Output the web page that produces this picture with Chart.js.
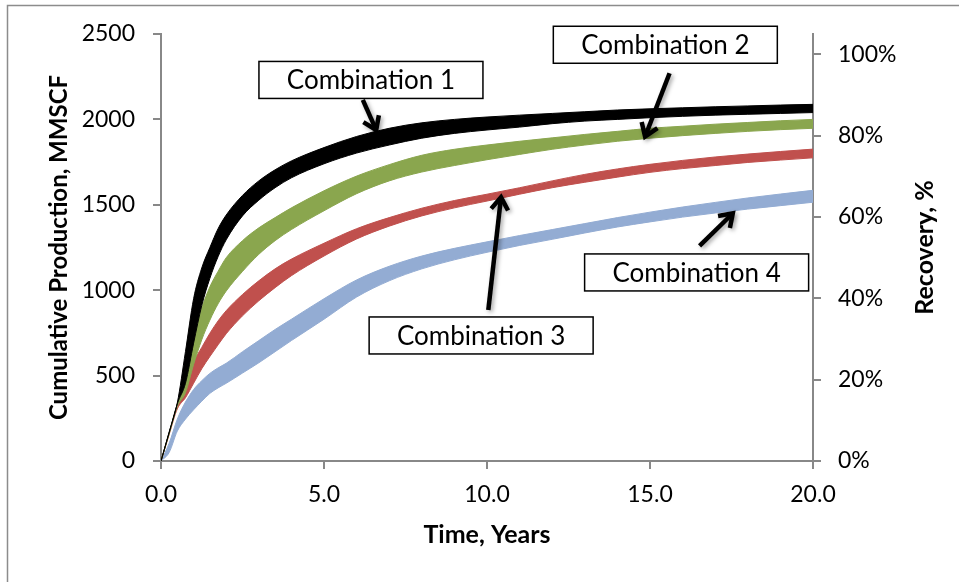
<!DOCTYPE html>
<html>
<head>
<meta charset="utf-8">
<script src="https://cdn.jsdelivr.net/npm/chart.js@4.4.1/dist/chart.umd.min.js"></script>
<style>
  html, body { margin: 0; padding: 0; background: #ffffff; }
  #wrap { width: 959px; height: 582px; }
</style>
</head>
<body>
<div id="wrap"><canvas id="chart" width="959" height="582"></canvas></div>
<script>
// Time axis (years)
const years = [0, 0.25, 0.5, 0.75, 1.0, 1.25, 1.5, 1.75, 2.0, 2.5, 3.0, 3.5, 4.0, 5.0, 6.0, 7.0, 8.0, 9.0, 10.0, 11.0, 12.0, 13.0, 14.0, 15.0, 16.0, 17.0, 18.0, 19.0, 20.0];

// Cumulative production, MMSCF: upper and lower bounds of each combination
const combo1Upper = [0, 170, 340, 640, 950, 1130, 1250, 1360, 1440, 1555, 1640, 1705, 1757, 1835, 1900, 1948, 1980, 2000, 2014, 2025, 2035, 2045, 2055, 2062, 2068, 2074, 2079, 2084, 2088];
const combo1Lower = [0, 165, 335, 455, 690, 910, 1070, 1196, 1295, 1435, 1527, 1600, 1658, 1740, 1803, 1850, 1890, 1918, 1938, 1955, 1975, 1990, 2000, 2010, 2018, 2025, 2030, 2035, 2040];
const combo2Upper = [0, 165, 330, 500, 725, 895, 1020, 1110, 1190, 1290, 1365, 1425, 1482, 1582, 1668, 1735, 1790, 1825, 1850, 1872, 1892, 1912, 1930, 1948, 1960, 1972, 1982, 1992, 2000];
const combo2Lower = [0, 160, 320, 400, 565, 710, 825, 920, 995, 1110, 1210, 1290, 1355, 1465, 1565, 1640, 1692, 1730, 1764, 1795, 1825, 1850, 1872, 1890, 1905, 1918, 1930, 1940, 1948];
const combo3Upper = [0, 160, 330, 455, 580, 665, 748, 820, 880, 975, 1055, 1125, 1182, 1275, 1360, 1425, 1480, 1525, 1562, 1600, 1640, 1678, 1710, 1737, 1760, 1780, 1797, 1812, 1826];
const combo3Lower = [0, 155, 305, 370, 455, 540, 612, 680, 745, 850, 938, 1015, 1085, 1200, 1300, 1375, 1435, 1482, 1522, 1562, 1600, 1632, 1662, 1690, 1712, 1730, 1748, 1762, 1775];
const combo4Upper = [0, 104, 245, 345, 418, 470, 513, 545, 572, 640, 705, 770, 830, 950, 1060, 1140, 1200, 1245, 1283, 1320, 1355, 1390, 1425, 1457, 1487, 1514, 1540, 1563, 1585];
const combo4Lower = [0, 50, 175, 245, 300, 350, 396, 428, 455, 515, 575, 640, 705, 830, 960, 1055, 1125, 1178, 1222, 1262, 1298, 1335, 1370, 1400, 1428, 1452, 1475, 1495, 1515];

const seriesNames = ['Combination 1', 'Combination 2', 'Combination 3', 'Combination 4'];
const seriesColors = ['#000000', '#8AA64E', '#C0504D', '#93ACD3'];

// Axis ticks
const productionTicks = [0, 500, 1000, 1500, 2000, 2500];
const recoveryTicks = [0, 20, 40, 60, 80, 100];
const recoveryMax = 105;   // OGIP ~ 2380 MMSCF
const timeTicks = [0, 5, 10, 15, 20];

const bands = [
  [combo1Upper, combo1Lower],
  [combo2Upper, combo2Lower],
  [combo3Upper, combo3Lower],
  [combo4Upper, combo4Lower]
];

const toPoints = arr => arr.map((v, i) => ({ x: years[i], y: v }));

const datasets = [];
bands.forEach(([up, lo], k) => {
  const c = seriesColors[k];
  datasets.push({
    label: seriesNames[k] + ' (high)', data: toPoints(up), yAxisID: 'y',
    borderColor: c, backgroundColor: c, borderWidth: 1, pointRadius: 0,
    cubicInterpolationMode: 'monotone', fill: '+1'
  });
  datasets.push({
    label: seriesNames[k] + ' (low)', data: toPoints(lo), yAxisID: 'y',
    borderColor: c, backgroundColor: c, borderWidth: 1, pointRadius: 0,
    cubicInterpolationMode: 'monotone', fill: false
  });
});

// Call-out boxes with arrows, placed in data units
const callouts = [
  { text: seriesNames[0], cx: 6.44, cy: 2231, from: [6.19, 2114], to: [6.60, 1938] },
  { text: seriesNames[1], cx: 15.47, cy: 2437, from: [15.60, 2270], to: [14.85, 1899] },
  { text: seriesNames[2], cx: 9.82, cy: 735, from: [10.04, 884], to: [10.43, 1544] },
  { text: seriesNames[3], cx: 16.43, cy: 1104, from: [16.52, 1259], to: [17.54, 1450] }
];

const FONT = 'Lato, "Open Sans", sans-serif';
const AXIS_GREY = '#888888';

const framePlugin = {
  id: 'frame',
  beforeDraw(chart) {
    const ctx = chart.ctx;
    ctx.save();
    ctx.fillStyle = '#ffffff';
    ctx.fillRect(0, 0, chart.width, chart.height);
    ctx.strokeStyle = '#8c8c8c';
    ctx.lineWidth = 1.5;
    ctx.strokeRect(7.5, 5.5, chart.width + 20, chart.height + 20);
    ctx.restore();
  }
};

const calloutPlugin = {
  id: 'callouts',
  afterDatasetsDraw(chart) {
    const ctx = chart.ctx;
    const xs = chart.scales.x, ys = chart.scales.y;
    ctx.save();
    callouts.forEach(c => {
      // arrow
      const x0 = xs.getPixelForValue(c.from[0]), y0 = ys.getPixelForValue(c.from[1]);
      const x1 = xs.getPixelForValue(c.to[0]), y1 = ys.getPixelForValue(c.to[1]);
      const ang = Math.atan2(y1 - y0, x1 - x0);
      const head = 15, spread = 0.6;
      ctx.save();
      ctx.shadowColor = 'rgba(0,0,0,0.35)';
      ctx.shadowBlur = 4;
      ctx.shadowOffsetX = 2;
      ctx.shadowOffsetY = 2;
      ctx.strokeStyle = '#000';
      ctx.lineWidth = 4.5;
      ctx.lineCap = 'butt';
      ctx.lineJoin = 'miter';
      ctx.beginPath();
      ctx.moveTo(x0, y0);
      ctx.lineTo(x1 - Math.cos(ang) * 2, y1 - Math.sin(ang) * 2);
      ctx.stroke();
      ctx.beginPath();
      ctx.moveTo(x1 - head * Math.cos(ang - spread), y1 - head * Math.sin(ang - spread));
      ctx.lineTo(x1, y1);
      ctx.lineTo(x1 - head * Math.cos(ang + spread), y1 - head * Math.sin(ang + spread));
      ctx.stroke();
      ctx.restore();

      // box
      const bx = xs.getPixelForValue(c.cx), by = ys.getPixelForValue(c.cy);
      const w = 224, h = 37;
      ctx.fillStyle = '#ffffff';
      ctx.fillRect(bx - w / 2, by - h / 2, w, h);
      ctx.strokeStyle = '#000';
      ctx.lineWidth = 1.5;
      ctx.strokeRect(bx - w / 2, by - h / 2, w, h);
      ctx.fillStyle = '#000';
      ctx.font = '26px ' + FONT;
      ctx.textAlign = 'center';
      ctx.textBaseline = 'middle';
      ctx.fillText(c.text, bx, by + 1);
    });
    ctx.restore();
  }
};

// Secondary axis title, reading bottom to top
const recoveryTitlePlugin = {
  id: 'recoveryTitle',
  afterDraw(chart) {
    const ctx = chart.ctx;
    const a = chart.chartArea;
    ctx.save();
    ctx.translate(925, (a.top + a.bottom) / 2);
    ctx.rotate(-Math.PI / 2);
    ctx.fillStyle = '#000';
    ctx.font = 'bold 25px ' + FONT;
    ctx.textAlign = 'center';
    ctx.textBaseline = 'middle';
    ctx.fillText('Recovery, %', 0, 0);
    ctx.restore();
  }
};

const axisGrid = { display: true, drawOnChartArea: false, drawTicks: true, tickLength: 8, color: AXIS_GREY, lineWidth: 2 };
const axisBorder = { display: true, color: AXIS_GREY, width: 2 };

new Chart(document.getElementById('chart'), {
  type: 'line',
  data: { datasets },
  options: {
    responsive: false,
    animation: false,
    layout: { padding: { top: 34, left: 0, right: 0, bottom: 0 } },
    plugins: {
      legend: { display: false },
      tooltip: { enabled: false },
      filler: { propagate: false }
    },
    scales: {
      x: {
        type: 'linear', min: timeTicks[0], max: timeTicks[timeTicks.length - 1],
        afterBuildTicks: s => { s.ticks = timeTicks.map(v => ({ value: v })); },
        ticks: { color: '#000', font: { family: FONT, size: 23 }, padding: 12, maxRotation: 0,
                 callback: v => Number(v).toFixed(1) },
        grid: axisGrid, border: axisBorder,
        title: { display: true, text: 'Time, Years', color: '#000',
                 font: { family: FONT, size: 25, weight: 'bold' }, padding: { top: 0, bottom: 32 } },
        afterFit: s => { s.height = 121; }
      },
      y: {
        type: 'linear', position: 'left', min: 0, max: productionTicks[productionTicks.length - 1],
        afterBuildTicks: s => { s.ticks = productionTicks.map(v => ({ value: v })); },
        ticks: { color: '#000', font: { family: FONT, size: 23 }, padding: 18, callback: v => String(v) },
        grid: axisGrid, border: axisBorder,
        title: { display: true, text: 'Cumulative Production, MMSCF', color: '#000',
                 font: { family: FONT, size: 24, weight: 'bold' }, padding: { top: 45, bottom: 0 } },
        afterFit: s => { s.width = 161; }
      },
      y1: {
        type: 'linear', position: 'right', min: 0, max: recoveryMax,
        afterBuildTicks: s => { s.ticks = recoveryTicks.map(v => ({ value: v })); },
        ticks: { color: '#000', font: { family: FONT, size: 23 }, padding: 17, callback: v => v + '%' },
        grid: axisGrid, border: axisBorder,
        afterFit: s => { s.width = 146; }
      }
    }
  },
  plugins: [framePlugin, calloutPlugin, recoveryTitlePlugin]
});
</script>
</body>
</html>
